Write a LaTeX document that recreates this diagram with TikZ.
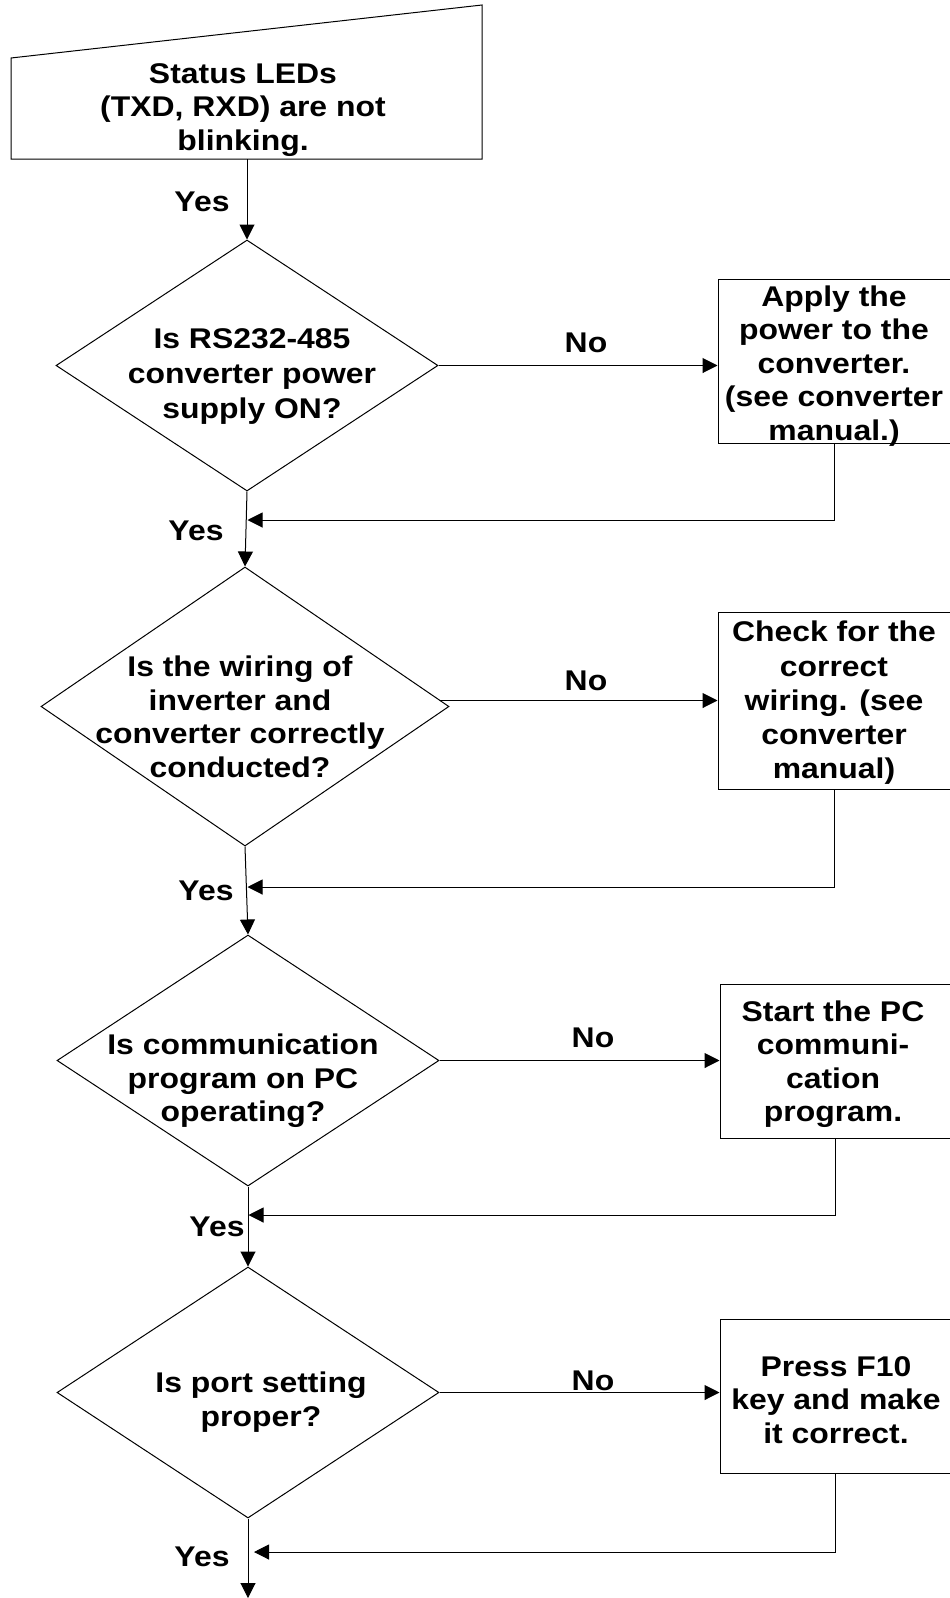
\documentclass[tikz,border=0pt]{standalone}
\usepackage{fontspec}
\setmainfont{Liberation Sans}[FakeStretch=1.12]
\usetikzlibrary{shapes.geometric,arrows.meta}
\tikzset{
  txt/.style={font=\fontsize{28.5}{33.5}\selectfont\bfseries, align=center, inner sep=0pt},
  dia/.style={draw, shape=diamond, inner sep=0pt, line width=1pt},
  procbox/.style={draw, rectangle, inner sep=0pt, line width=1pt},
  conn/.style={line width=1pt},
  arr/.style={line width=1pt, -{Triangle[length=15pt,width=15pt]}},
}
\begin{document}
\begin{tikzpicture}[x=1pt,y=-1pt]
\useasboundingbox (0,0) rectangle (950,1598);
% start: manual input shape
\draw[line width=1pt] (11,58) -- (482,5) -- (482,159) -- (11,159) -- cycle;
\coordinate (topb) at (247,159);
\node[txt] (ttop) at (243,110) {Status LEDs\\(TXD, RXD) are not\\blinking.};

% diamonds
\node[dia, minimum width=382pt, minimum height=251pt] (d1) at (247,365.5) {};
\node[dia, minimum width=408pt, minimum height=279pt] (d2) at (245,706.5) {};
\node[dia, minimum width=382pt, minimum height=251pt] (d3) at (248,1060.5) {};
\node[dia, minimum width=382pt, minimum height=251pt] (d4) at (248,1392.5) {};

\node[txt, font=\fontsize{28.5}{35}\selectfont\bfseries] (t1) at (252,377) {Is RS232-485\\converter power\\supply ON?};
\node[txt] (t2) at (240,717) {Is the wiring of\\inverter and\\converter correctly\\conducted?};
\node[txt] (t3) at (243,1081) {Is communication\\program on PC\\operating?};
\node[txt] (t4) at (261,1402) {Is port setting\\proper?};

% process boxes
\node[procbox, minimum width=232pt, minimum height=164pt] (b1) at (834,361) {};
\node[procbox, minimum width=232pt, minimum height=177pt] (b2) at (834,700.5) {};
\node[procbox, minimum width=230pt, minimum height=154pt] (b3) at (835,1061) {};
\node[procbox, minimum width=230pt, minimum height=154pt] (b4) at (835,1396) {};

\node[txt] (bt1) at (834,366) {Apply the\\power to the\\converter.\\(see converter\\manual.)};
\node[txt, font=\fontsize{28.5}{34.3}\selectfont\bfseries] (bt2) at (834,703) {Check for the\\correct\\wiring. (see\\converter\\manual)};
\node[txt] (bt3) at (833,1064) {Start the PC\\communi-\\cation\\program.};
\node[txt] (bt4) at (836,1400) {Press F10\\key and make\\it correct.};

% coordinates for return arrows and end
\coordinate (m1) at (247.5,520);
\coordinate (m2) at (247.5,887);
\coordinate (m3) at (248.5,1215);
\coordinate (m4) at (254,1552);
\coordinate (endp) at (248,1598);

% main vertical flow
\draw[arr] (topb) -- (d1.north);
\draw[arr] (d1.south) -- (d2.north);
\draw[arr] (d2.south) -- (d3.north);
\draw[arr] (d3.south) -- (d4.north);
\draw[arr] (d4.south) -- (endp);

% No branches
\draw[arr] (d1.east) -- (d1.east -| b1.west);
\draw[arr] (d2.east |- b2.west) ++(-10,0) -- (b2.west);
\draw[arr] (d3.east) -- (d3.east -| b3.west);
\draw[arr] (d4.east) -- (d4.east -| b4.west);

% return connectors
\draw[arr] (b1.south) |- (m1);
\draw[arr] (b2.south) |- (m2);
\draw[arr] (b3.south) |- (m3);
\draw[arr] (b4.south) |- (m4);

% labels
\node[txt] (no1) at (586,343) {No};
\node[txt] (no2) at (586,681) {No};
\node[txt] (no3) at (593,1038) {No};
\node[txt] (no4) at (593,1381) {No};
\node[txt] (y1) at (202,202) {Yes};
\node[txt] (y2) at (196,531) {Yes};
\node[txt] (y3) at (206,891) {Yes};
\node[txt] (y4) at (217,1227) {Yes};
\node[txt] (y5) at (202,1557) {Yes};
\end{tikzpicture}
\end{document}
